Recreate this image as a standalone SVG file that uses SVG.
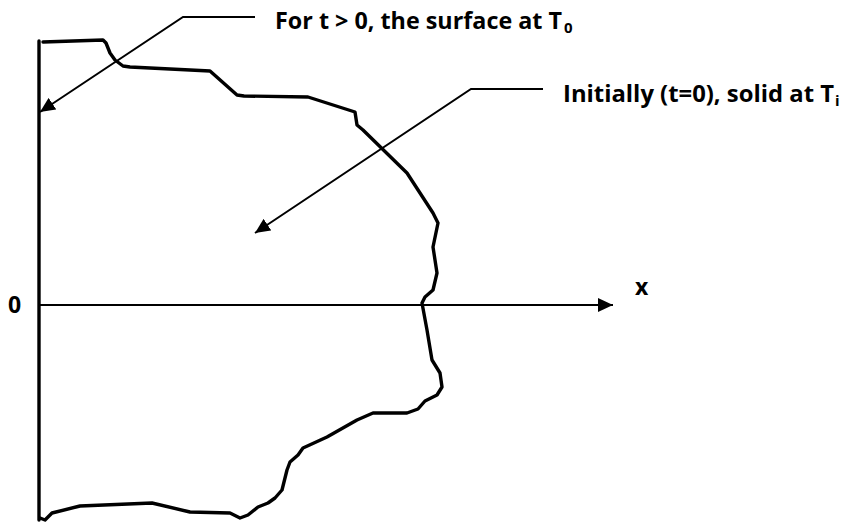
<svg xmlns="http://www.w3.org/2000/svg" width="849" height="522" viewBox="0 0 849 522">
<style>
.lbl{font-family:"Open Sans","Liberation Sans",sans-serif;font-weight:bold;font-size:23px;fill:#000}
.sub{font-size:15px}
.ln{stroke:#000;fill:none;stroke-width:2}
.thick{stroke:#000;fill:none;stroke-width:3.4;stroke-linejoin:round;stroke-linecap:round}
</style>
<defs>
<marker id="ah" markerUnits="userSpaceOnUse" markerWidth="16" markerHeight="14" refX="15" refY="7" orient="auto">
<path d="M0,0 L15,7 L0,14 Z" fill="#000"/>
</marker>
</defs>
<rect width="849" height="522" fill="#fff"/>
<g id="wall">
<line class="thick" x1="39" y1="41" x2="39" y2="520"/>
</g>
<g id="solid">
<path class="thick" d="M43,42 L103,40 L106,43 L110,53 L115,60 L123,66 L130,67 L210,71 L237,95 L244,96 L308,97 L355,112 L357,125 L363,130 L407,173 L433,213 L438,223 L433,247 L437,273 L433,290 L425,297 L422,303 L427,330 L432,360 L440,373 L442,387 L437,395 L425,401 L418,409 L407,413 L373,413 L357,420 L327,437 L303,448 L298,455 L290,462 L287,470 L282,490 L275,498 L268,503 L258,507 L248,515 L240,518 L230,513 L190,512 L152,503 L80,506 L52,513 L45,520 L40,518"/>
</g>
<g id="x-axis">
<line class="ln" x1="39" y1="305" x2="613" y2="305" marker-end="url(#ah)"/>
<text class="lbl" x="635" y="295">x</text>
<text class="lbl" x="8" y="313">0</text>
</g>
<g id="label-surface">
<text class="lbl" x="275" y="29" textLength="287" lengthAdjust="spacingAndGlyphs">For t &gt; 0, the surface at T</text>
<text class="lbl sub" x="564" y="33">0</text>
</g>
<g id="label-initial">
<text class="lbl" x="563" y="102" textLength="271" lengthAdjust="spacingAndGlyphs">Initially (t=0), solid at T</text>
<text class="lbl sub" x="835" y="106">i</text>
</g>
<g id="connectors">
<polyline class="ln" points="255,17 183,17 40,112" marker-end="url(#ah)"/>
<polyline class="ln" points="543,89 471,89 255,233" marker-end="url(#ah)"/>
</g>
</svg>
